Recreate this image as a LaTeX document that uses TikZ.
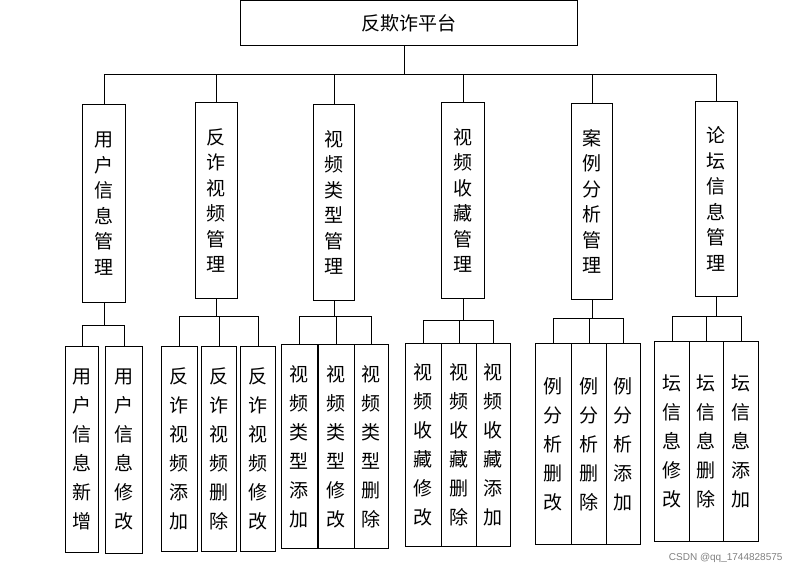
\documentclass[tikz,border=0pt]{standalone}
\usepackage{fontspec}
\newfontfamily\cjk{Noto Sans CJK SC}
\begin{document}
\begin{tikzpicture}[x=1pt,y=-1pt,
  box/.style={draw,line width=0.8pt,inner sep=0pt,anchor=north west,align=center,font=\cjk\fontsize{19}{25.5}\selectfont},
  leaf/.style={box,font=\cjk\fontsize{19}{29}\selectfont},
  ln/.style={line width=0.8pt}]
\useasboundingbox (0,0) rectangle (798,570);
\newcommand\bx[7]{\node[#1,minimum width=#4,minimum height=#5] (#2) at (#3) {#6};}
\node[box,minimum width=337,minimum height=45] (top) at (240,0) {反欺诈平台};
% level 2
\bx{box}{a}{82,104}{43}{198}{用\\户\\信\\息\\管\\理}{}
\bx{box}{b}{195,102}{42}{196}{反\\诈\\视\\频\\管\\理}{}
\bx{box}{c}{313,104}{41}{196}{视\\频\\类\\型\\管\\理}{}
\bx{box}{d}{441,102}{43}{196}{视\\频\\收\\藏\\管\\理}{}
\bx{box}{e}{571,103}{41}{196}{案\\例\\分\\析\\管\\理}{}
\bx{box}{f}{695,101}{42}{195}{论\\坛\\信\\息\\管\\理}{}
\coordinate (h) at (404,74);
\draw[ln] (h |- top.south) -- (h);
\draw[ln] (a.north |- h) -- (f.north |- h);
\foreach \n in {a,b,c,d,e,f} \draw[ln] (\n.north |- h) -- (\n.north);
% level 3
\bx{leaf}{a1}{65,346}{33}{206}{用\\户\\信\\息\\新\\增}{}
\bx{leaf}{a2}{105,346}{37}{207}{用\\户\\信\\息\\修\\改}{}
\bx{leaf}{b1}{161,346}{36}{205}{反\\诈\\视\\频\\添\\加}{}
\bx{leaf}{b2}{201,346}{35}{205}{反\\诈\\视\\频\\删\\除}{}
\bx{leaf}{b3}{240,346}{35}{205}{反\\诈\\视\\频\\修\\改}{}
\bx{leaf}{c1}{281,344}{36}{204}{视\\频\\类\\型\\添\\加}{}
\bx{leaf}{c2}{318,344}{36}{204}{视\\频\\类\\型\\修\\改}{}
\bx{leaf}{c3}{354,344}{34}{204}{视\\频\\类\\型\\删\\除}{}
\bx{leaf}{d1}{405,343}{36}{203}{视\\频\\收\\藏\\修\\改}{}
\bx{leaf}{d2}{441,343}{35}{203}{视\\频\\收\\藏\\删\\除}{}
\bx{leaf}{d3}{476,343}{34}{203}{视\\频\\收\\藏\\添\\加}{}
\bx{leaf}{e1}{535,343}{36}{201}{例\\分\\析\\删\\改}{}
\bx{leaf}{e2}{571,343}{35}{201}{例\\分\\析\\删\\除}{}
\bx{leaf}{e3}{606,343}{34}{201}{例\\分\\析\\添\\加}{}
\bx{leaf}{f1}{654,341}{35}{200}{坛\\信\\息\\修\\改}{}
\bx{leaf}{f2}{689,341}{34}{200}{坛\\信\\息\\删\\除}{}
\bx{leaf}{f3}{723,341}{35}{200}{坛\\信\\息\\添\\加}{}
\foreach \p/\y/\fst/\lst/\l in {a/325/a1/a2/{a1,a2},b/316/b1/b3/{b1,b2,b3},c/316/c1/c3/{c1,c2,c3},d/320/d1/d3/{d1,d2,d3},e/318/e1/e3/{e1,e2,e3},f/316/f1/f3/{f1,f2,f3}}{
  \draw[ln] (\p.south) -- (\p.south |- 0,\y);
  \draw[ln] (\fst.north |- 0,\y) -- (\lst.north |- 0,\y);
  \foreach \c in \l \draw[ln] (\c.north |- 0,\y) -- (\c.north);
}
\node[font=\fontspec{Liberation Sans}\fontsize{10}{12}\selectfont,text=gray,anchor=south east] (wm) at (786,566) {CSDN @qq\_1744828575};
\end{tikzpicture}
\end{document}
